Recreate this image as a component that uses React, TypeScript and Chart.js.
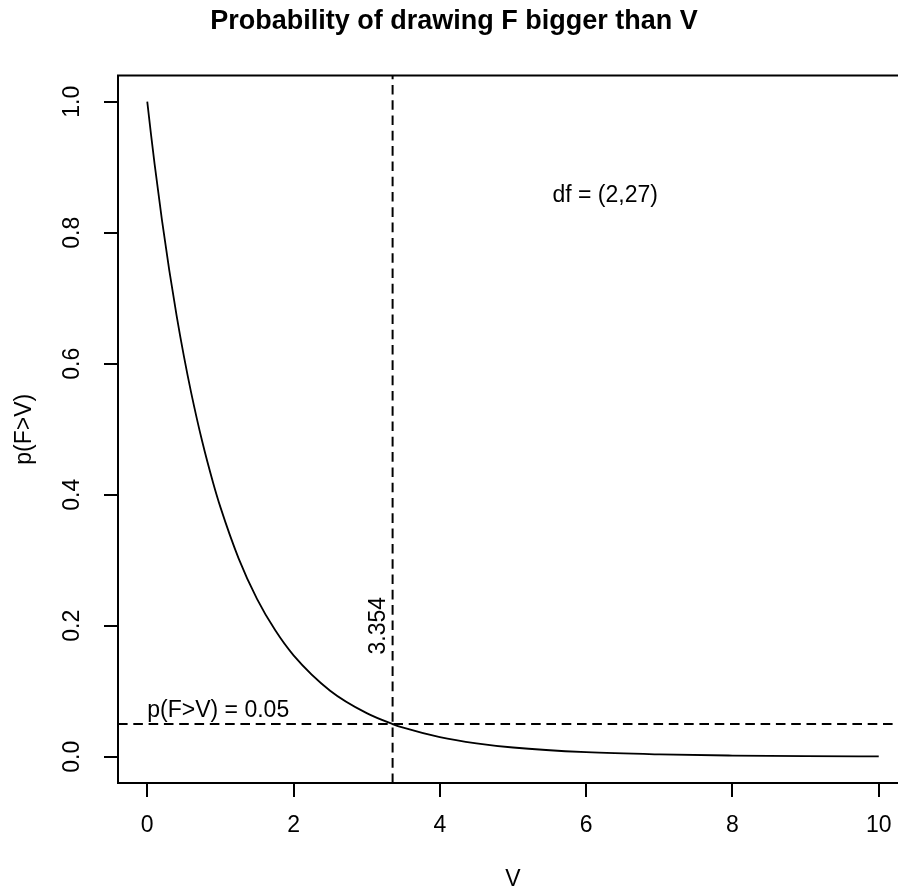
import React, { useEffect, useRef } from "react";
import { Chart, registerables } from "chart.js";

Chart.register(...registerables);

const TITLE = "Probability of drawing F bigger than V";
const X_TITLE = "V";
const Y_TITLE = "p(F>V)";

const CURVE_X = [0, 0.05, 0.1, 0.2, 0.3, 0.4, 0.5, 0.6, 0.75, 0.9, 1, 1.25, 1.5, 1.75, 2, 2.5, 3, 3.354, 3.5, 4, 4.5, 5, 6, 7, 8, 9, 10];
const CURVE_P = [1, 0.9513, 0.9052, 0.8199, 0.7433, 0.6742, 0.612, 0.556, 0.482, 0.4184, 0.3811, 0.3026, 0.2411, 0.193, 0.1549, 0.1009, 0.0666, 0.05, 0.0445, 0.0301, 0.0206, 0.0142, 0.007, 0.0036, 0.0019, 0.001, 0.0006];

const X_TICKS = [0, 2, 4, 6, 8, 10];
const X_TICK_LABELS = ["0", "2", "4", "6", "8", "10"];
const Y_TICKS = [0, 0.2, 0.4, 0.6, 0.8, 1.0];
const Y_TICK_LABELS = ["0.0", "0.2", "0.4", "0.6", "0.8", "1.0"];

const X_RANGE = [-0.4, 10.4];
const Y_RANGE = [-0.04, 1.04];

const CRIT_V = 3.354;
const ALPHA = 0.05;
const CRIT_LABEL = "3.354";
const CRIT_LABEL_Y = 0.2;
const ALPHA_LABEL = "p(F>V) = 0.05";
const DF_LABEL = "df = (2,27)";
const DF_LABEL_POS = [6.26, 0.857];

const FONT = "'Liberation Sans', Arial, Helvetica, sans-serif";

const overlayPlugin = {
  id: "overlay",
  afterDatasetsDraw(chart: any) {
    const { ctx, chartArea, scales } = chart;
    const xs = scales.x;
    const ys = scales.y;
    ctx.save();
    ctx.strokeStyle = "#000";
    ctx.lineWidth = 2;
    ctx.strokeRect(chartArea.left, chartArea.top, chartArea.right - chartArea.left, chartArea.bottom - chartArea.top);

    ctx.fillStyle = "#000";
    ctx.font = `23px ${FONT}`;
    // df label
    ctx.textAlign = "center";
    ctx.textBaseline = "middle";
    ctx.fillText(DF_LABEL, xs.getPixelForValue(DF_LABEL_POS[0]), ys.getPixelForValue(DF_LABEL_POS[1]));
    // alpha label
    ctx.textAlign = "left";
    ctx.textBaseline = "alphabetic";
    ctx.fillText(ALPHA_LABEL, xs.getPixelForValue(0), ys.getPixelForValue(ALPHA) - 7.5);
    // critical value label (rotated)
    ctx.save();
    ctx.translate(xs.getPixelForValue(CRIT_V) - 8, ys.getPixelForValue(CRIT_LABEL_Y));
    ctx.rotate(-Math.PI / 2);
    ctx.textAlign = "center";
    ctx.textBaseline = "alphabetic";
    ctx.fillText(CRIT_LABEL, 0, 0);
    ctx.restore();
    ctx.restore();
  },
};

export default function App() {
  const ref = useRef<HTMLCanvasElement | null>(null);

  useEffect(() => {
    document.body.style.margin = "0";
    document.body.style.overflow = "hidden";
    Chart.defaults.font.family = FONT;
    Chart.defaults.color = "#000";
    const canvas = ref.current;
    if (!canvas) return;

    const curve = CURVE_X.map((x, i) => ({ x, y: CURVE_P[i] }));
    const hLine = [
      { x: X_RANGE[0], y: ALPHA },
      { x: X_RANGE[1], y: ALPHA },
    ];
    const vLine = [
      { x: CRIT_V, y: Y_RANGE[0] },
      { x: CRIT_V, y: Y_RANGE[1] },
    ];

    const grid = {
      display: true,
      drawOnChartArea: false,
      drawTicks: true,
      tickLength: 14,
      color: "#000",
      lineWidth: 2,
    };

    const chart = new Chart(canvas, {
      type: "line",
      data: {
        datasets: [
          {
            data: curve,
            borderColor: "#000",
            borderWidth: 1.8,
            pointRadius: 0,
            cubicInterpolationMode: "monotone",
            fill: false,
          },
          {
            data: hLine,
            borderColor: "#000",
            borderWidth: 2,
            borderDash: [9.6, 5.7],
            pointRadius: 0,
            fill: false,
          },
          {
            data: vLine,
            borderColor: "#000",
            borderWidth: 2,
            borderDash: [9.6, 5.7],
            pointRadius: 0,
            fill: false,
          },
        ],
      },
      options: {
        animation: false,
        responsive: false,
        events: [],
        layout: { padding: { left: 0, right: 22, top: 0, bottom: 0 } },
        plugins: {
          legend: { display: false },
          tooltip: { enabled: false },
          title: {
            display: true,
            text: TITLE,
            color: "#000",
            font: { size: 27, weight: "bold", family: FONT, lineHeight: 1.2 },
            padding: { top: 5.3, bottom: 37.8 },
          },
        },
        scales: {
          x: {
            type: "linear",
            min: X_RANGE[0],
            max: X_RANGE[1],
            afterBuildTicks: (s: any) => {
              s.ticks = X_TICKS.map((value) => ({ value }));
            },
            afterFit: (s: any) => {
              s.height = 109;
            },
            ticks: {
              color: "#000",
              font: { size: 23, family: FONT },
              padding: 15,
              maxRotation: 0,
              autoSkip: false,
              callback: (_v: any, i: number) => X_TICK_LABELS[i],
            },
            grid,
            border: { display: false },
            title: {
              display: true,
              text: X_TITLE,
              color: "#000",
              font: { size: 23, family: FONT, lineHeight: 1 },
              padding: { top: 0, bottom: 0.5 },
            },
          },
          y: {
            type: "linear",
            min: Y_RANGE[0],
            max: Y_RANGE[1],
            afterBuildTicks: (s: any) => {
              s.ticks = Y_TICKS.map((value) => ({ value }));
            },
            afterFit: (s: any) => {
              s.width = 118;
            },
            ticks: {
              color: "#000",
              font: { size: 23, family: FONT },
              padding: 15,
              minRotation: 90,
              maxRotation: 90,
              crossAlign: "center",
              autoSkip: false,
              callback: (_v: any, i: number) => Y_TICK_LABELS[i],
            },
            grid,
            border: { display: false },
            title: {
              display: true,
              text: Y_TITLE,
              color: "#000",
              font: { size: 23, family: FONT, lineHeight: 1 },
              padding: { top: 13, bottom: 0 },
            },
          },
        },
      },
      plugins: [overlayPlugin],
    } as any);

    return () => chart.destroy();
  }, []);

  return (
    <div style={{ width: 898, height: 892, overflow: "hidden", position: "relative", background: "#fff" }}>
      <canvas ref={ref} width={930} height={892} style={{ display: "block", width: 930, height: 892 }} />
    </div>
  );
}
